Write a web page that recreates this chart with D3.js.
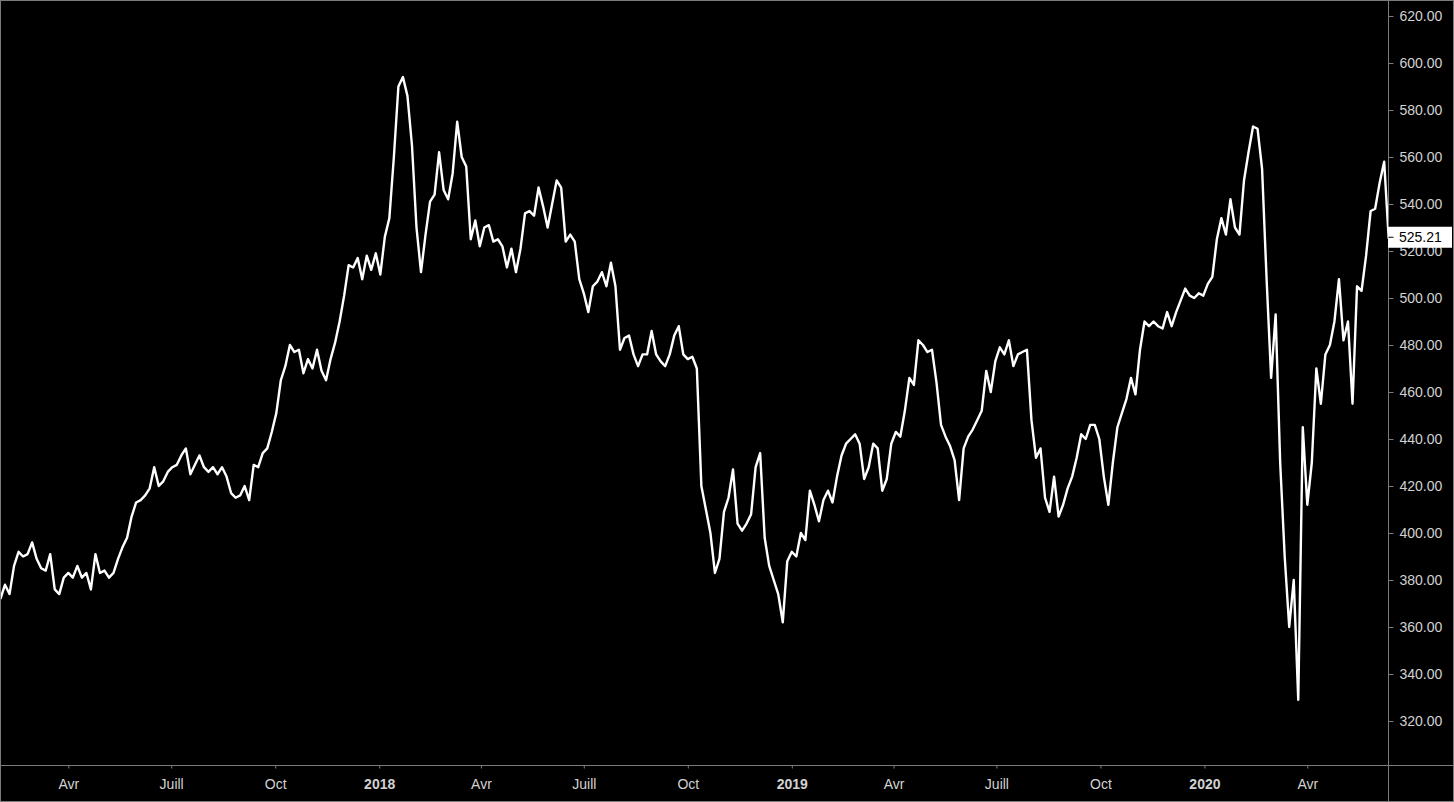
<!DOCTYPE html>
<html><head><meta charset="utf-8">
<script src="https://cdn.jsdelivr.net/npm/d3@7"></script>
<style>html,body{margin:0;padding:0;background:#000;overflow:hidden}</style>
</head><body>
<svg id="chart" width="1454" height="802"></svg>
<script>
// ---- data ----
const startDate = "2017-01-31";
const stepDays = 4;
const values = [
372,378,374,386,392,390,391,396,389,385,
384,391,376,374,381,383,381,386,381,383,
376,391,383,384,381,383,389,394,398,407,
413,414,416,419,428,420,422,426,428,429,
433,436,425,429,433,428,426,428,425,428,
424,417,415,416,420,414,429,428,434,436,
443,451,465,471,480,477,478,468,474,470,
478,469,465,474,481,490,501,514,513,517,
508,518,512,519,510,526,534,560,590,594,
586,565,530,511,527,541,544,562,546,542,
553,575,560,556,525,533,522,530,531,524,
525,522,513,521,511,521,536,537,535,547,
539,530,540,550,547,524,527,524,508,502,
494,505,507,511,505,515,505,478,483,484,
476,471,476,476,486,476,473,471,476,484,
488,476,474,475,470,420,410,400,383,389,
409,415,427,404,401,404,408,428,434,398,
386,380,374,362,388,392,390,400,397,418,
412,405,414,418,413,424,433,438,440,442,
438,423,428,438,436,418,423,438,443,441,
452,466,463,482,480,477,478,464,446,441,
437,431,414,436,441,444,448,452,469,460,
473,479,476,482,471,476,477,478,448,432,
436,415,409,424,407,412,419,424,432,442,
440,446,446,440,424,412,430,445,451,457,
466,459,478,490,488,490,488,487,494,488,
494,499,504,501,500,502,501,506,509,525,
534,527,542,530,527,550,562,573,572,555,
508,466,493,430,390,360,380,329,445,412,
430,470,455,476,480,490,508,482,490,455,
505,503,518,537,538,549,558,525.21
];
const yTicks = [320,340,360,380,400,420,440,460,480,500,520,540,560,580,600,620];
const xTickDates = ["2017-04-01","2017-07-01","2017-10-01","2018-01-01","2018-04-01","2018-07-01","2018-10-01","2019-01-01","2019-04-01","2019-07-01","2019-10-01","2020-01-01","2020-04-01"];
const xTickLabels = ["Avr","Juill","Oct","2018","Avr","Juill","Oct","2019","Avr","Juill","Oct","2020","Avr"];

// ---- layout ----
const W = 1454, H = 802, plotRight = 1388, axisY = 765;
const gridColor = "#7b7b7b", textColor = "#d2d2d2";
const font = "'Liberation Sans', Arial, sans-serif";

const parse = d3.utcParse("%Y-%m-%d");
const t0 = parse(startDate);
const data = values.map((v, i) => ({date: d3.utcDay.offset(t0, i * stepDays), value: v}));

const x = d3.scaleUtc().domain([parse("2017-04-01"), parse("2020-04-01")]).range([68.3, 1307.3]);
const y = d3.scaleLinear().domain([320, 620]).range([721, 16]);

const svg = d3.select("#chart");
svg.append("rect").attr("width", W).attr("height", H).attr("fill", "#000");

svg.append("defs").append("clipPath").attr("id", "clip")
  .append("rect").attr("x", 0).attr("y", 0).attr("width", plotRight).attr("height", axisY);

// line
svg.append("path")
  .datum(data)
  .attr("clip-path", "url(#clip)")
  .attr("fill", "none")
  .attr("stroke", "#ffffff")
  .attr("stroke-width", 2.4)
  .attr("stroke-linejoin", "round")
  .attr("d", d3.line().x(d => x(d.date)).y(d => y(d.value)));

// axis lines and border
svg.append("line").attr("x1", plotRight + 0.5).attr("x2", plotRight + 0.5).attr("y1", 0).attr("y2", H)
  .attr("stroke", gridColor);
svg.append("line").attr("x1", 0).attr("x2", W).attr("y1", axisY + 0.5).attr("y2", axisY + 0.5)
  .attr("stroke", gridColor);
svg.append("rect").attr("x", 0.5).attr("y", 0.5).attr("width", W - 1).attr("height", H - 1)
  .attr("fill", "none").attr("stroke", gridColor);

// right axis
const yAxis = svg.append("g")
  .attr("transform", `translate(${plotRight + 0.5},0)`)
  .call(d3.axisRight(y).tickValues(yTicks).tickFormat(d3.format(".2f")).tickSize(5).tickPadding(6).tickSizeOuter(0));
yAxis.select(".domain").remove();
yAxis.selectAll(".tick line").attr("stroke", gridColor);
yAxis.selectAll(".tick text").attr("fill", textColor).style("font-family", font).style("font-size", "14px");

// bottom axis
const xAxis = svg.append("g")
  .attr("transform", `translate(0,${axisY + 0.5})`)
  .call(d3.axisBottom(x).tickValues(xTickDates.map(parse))
    .tickFormat((d, i) => xTickLabels[i]).tickSize(3).tickPadding(11).tickSizeOuter(0));
xAxis.select(".domain").remove();
xAxis.selectAll(".tick line").attr("stroke", gridColor);
xAxis.selectAll(".tick text")
  .attr("fill", textColor)
  .style("font-family", font)
  .style("font-size", "14px")
  .style("font-weight", (d, i) => /^\d{4}$/.test(xTickLabels[i]) ? "bold" : "normal");

// last value label
const last = values[values.length - 1];
const ly = y(last);
const lab = svg.append("g");
lab.append("rect").attr("x", plotRight).attr("y", ly - 12).attr("width", W - plotRight - 2).attr("height", 21)
  .attr("fill", "#ffffff");
lab.append("line").attr("x1", plotRight + 0.5).attr("x2", plotRight + 5.5).attr("y1", ly - 1.5).attr("y2", ly - 1.5)
  .attr("stroke", "#000");
lab.append("text").attr("x", plotRight + 11).attr("y", ly - 1.5).attr("dy", "0.35em")
  .attr("fill", "#000").style("font-family", font).style("font-size", "14px")
  .text(d3.format(".2f")(last));
</script>
</body></html>
